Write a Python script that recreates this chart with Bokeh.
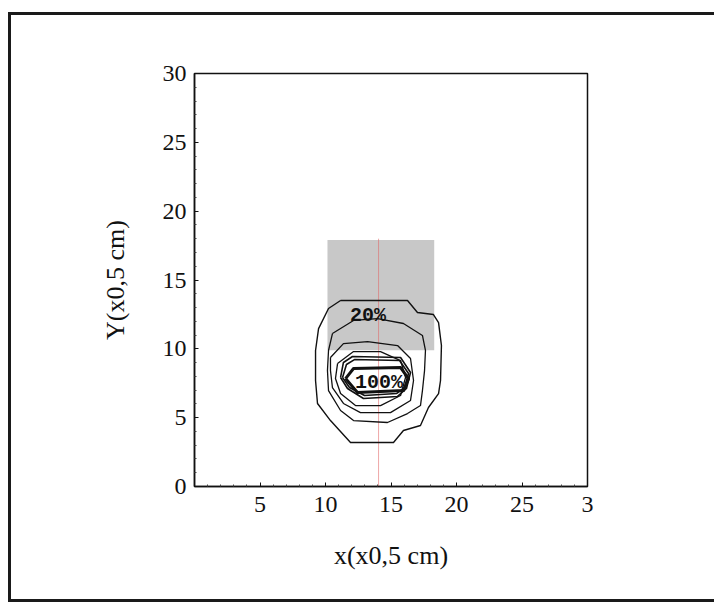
from bokeh.plotting import figure
from bokeh.models import FixedTicker, Range1d
from bokeh.embed import file_html
from bokeh.resources import INLINE
from bokeh.core.properties import value

# ---- data ----
x_ticks = [0, 5, 10, 15, 20, 25, 30]
x_tick_labels = ["", "5", "10", "15", "20", "25", "3"]
y_ticks = [0, 5, 10, 15, 20, 25, 30]
y_tick_labels = ["0", "5", "10", "15", "20", "25", "30"]

shade_x = [10.15, 18.3]
shade_y = [9.9, 17.9]

marker_x = 14.05
marker_y = [0.0, 18.0]

contour_20_x = [11.15, 16.26, 17.02, 18.24, 18.63, 18.85, 18.78, 18.63, 17.86, 17.25, 15.95, 15.19, 11.91, 10.38, 9.39, 9.24, 9.24, 9.47, 10.23]
contour_20_y = [13.51, 13.51, 12.64, 12.49, 11.91, 10.24, 7.70, 6.75, 5.74, 4.43, 4.07, 3.20, 3.20, 4.79, 6.03, 7.70, 9.88, 11.47, 12.93]

contour_2_x = [10.53, 12.14, 13.97, 15.95, 17.40, 17.63, 17.56, 17.40, 17.25, 16.26, 14.73, 12.14, 11.15, 10.23, 10.15, 10.23]
contour_2_y = [11.11, 12.06, 12.20, 11.84, 10.97, 9.88, 8.42, 6.97, 5.88, 5.30, 4.65, 4.79, 5.52, 6.97, 8.42, 9.88]

contour_3_x = [10.38, 11.37, 13.21, 15.50, 16.49, 16.72, 16.49, 14.96, 12.67, 11.37, 10.53, 10.38]
contour_3_y = [9.37, 10.38, 10.53, 10.24, 9.30, 7.70, 6.25, 5.37, 5.37, 6.03, 7.19, 8.42]

contour_4_x = [10.92, 12.14, 14.20, 15.73, 16.11, 15.73, 14.20, 12.29, 11.15, 10.76]
contour_4_y = [8.93, 9.80, 9.80, 9.15, 7.92, 6.61, 5.88, 5.88, 6.75, 7.84]

contour_5_x = [11.15, 11.37, 12.06, 15.73, 16.49, 16.18, 15.50, 12.90, 11.68]
contour_5_y = [7.92, 9.01, 9.44, 9.37, 8.28, 7.12, 6.54, 6.39, 7.12]

contour_6_x = [11.30, 11.60, 12.21, 15.65, 16.34, 16.03, 15.42, 12.98, 11.83]
contour_6_y = [7.92, 8.86, 9.22, 9.15, 8.21, 7.19, 6.75, 6.61, 7.19]

contour_100_x = [11.53, 12.14, 15.73, 16.34, 15.95, 12.44]
contour_100_y = [7.84, 8.57, 8.64, 7.84, 6.97, 6.83]

label_20 = ("20%", 13.24, 12.42)
label_100 = ("100%", 14.08, 7.55)


def closed(v):
    return list(v) + [v[0]]


p = figure(width=706, height=590,
           x_range=Range1d(0, 30), y_range=Range1d(0, 30),
           output_backend="svg", toolbar_location=None,
           min_border_left=183, min_border_right=130,
           min_border_top=58, min_border_bottom=119)

p.styles = {"margin-left": "8px", "margin-top": "12px",
            "border-top": "3px solid #1a1a1a",
            "border-left": "3px solid #1a1a1a",
            "border-bottom": "3px solid #1a1a1a"}

p.background_fill_color = "white"
p.border_fill_color = "white"
p.outline_line_color = "#111111"
p.outline_line_width = 1.5
p.xgrid.visible = False
p.ygrid.visible = False

# shaded region
p.quad(left=shade_x[0], right=shade_x[1], bottom=shade_y[0], top=shade_y[1],
       fill_color="#c8c8c8", line_color=None)

# faint red marker line
p.line([marker_x, marker_x], marker_y, line_color="#e06060", line_alpha=0.55, line_width=1)

rings = [(contour_20_x, contour_20_y, 1.4), (contour_2_x, contour_2_y, 1.3),
         (contour_3_x, contour_3_y, 1.3), (contour_4_x, contour_4_y, 1.3),
         (contour_5_x, contour_5_y, 1.6), (contour_6_x, contour_6_y, 1.6),
         (contour_100_x, contour_100_y, 3.0)]
for cx, cy, lw in rings:
    p.line(closed(cx), closed(cy), line_color="#111111", line_width=lw, line_join="round")

for txt, lx, ly in (label_20, label_100):
    p.text(x=[lx], y=[ly], text=[txt], text_font=value("Liberation Mono"),
           text_font_size="20px", text_font_style="bold", text_color="#111111",
           text_align="center", text_baseline="middle")

for ax, ticks, labels in ((p.xaxis[0], x_ticks, x_tick_labels), (p.yaxis[0], y_ticks, y_tick_labels)):
    ax.ticker = FixedTicker(ticks=ticks, minor_ticks=[t + i for t in range(0, 30, 5) for i in range(1, 5)])
    ax.major_label_overrides = {t: l for t, l in zip(ticks, labels)}
    ax.major_label_text_font = "Liberation Serif"
    ax.major_label_text_font_size = "24px"
    ax.major_label_text_color = "#111111"
    ax.axis_line_color = "#111111"
    ax.axis_line_width = 1.5
    ax.major_tick_in = 4
    ax.major_tick_out = 0
    ax.minor_tick_in = 2
    ax.minor_tick_out = 0
    ax.major_tick_line_color = "#111111"
    ax.minor_tick_line_color = "#444444"
    ax.axis_label_text_font = "Liberation Serif"
    ax.axis_label_text_font_size = "26px"
    ax.axis_label_text_font_style = "normal"
    ax.axis_label_text_color = "#111111"

p.xaxis.axis_label = "x(x0,5 cm)"
p.yaxis.axis_label = "Y(x0,5 cm)"
p.xaxis.major_label_standoff = 10
p.yaxis.major_label_standoff = 8
p.xaxis.axis_label_standoff = 26
p.yaxis.axis_label_standoff = 30

open("out.html", "w").write(file_html(p, INLINE))
